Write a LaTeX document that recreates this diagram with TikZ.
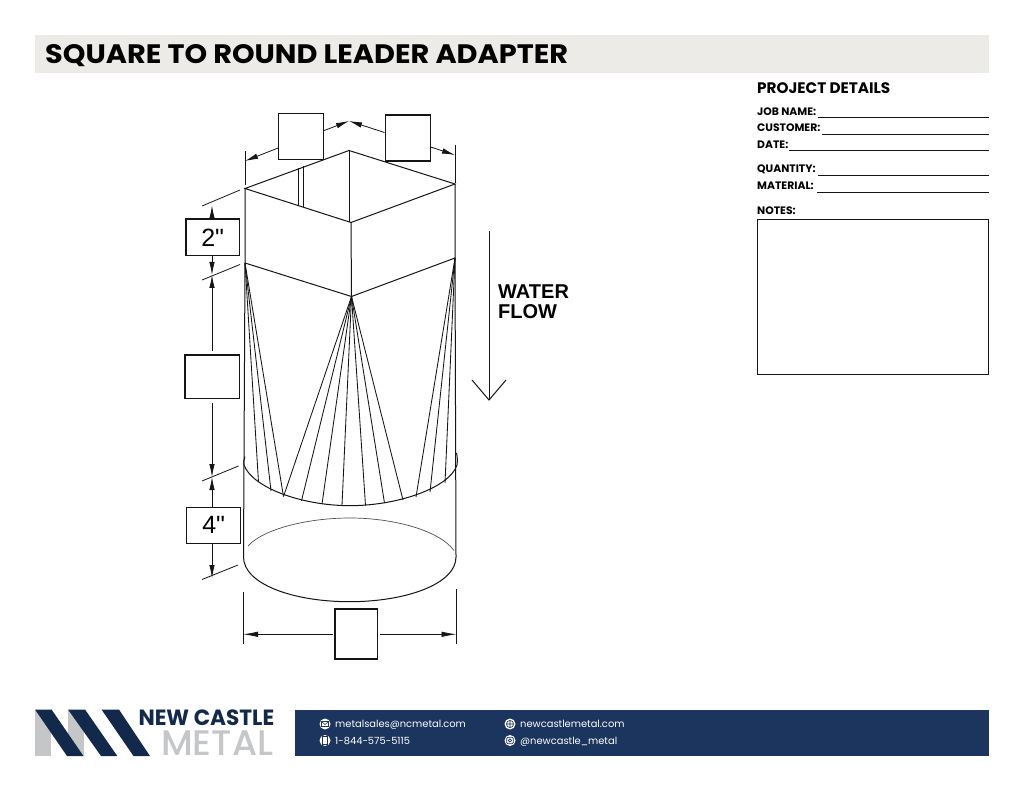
\documentclass[tikz,border=0pt]{standalone}
\usepackage{fontspec}
\usepackage{graphicx}
\setmainfont{Liberation Sans}
\newfontfamily\headfont{Poppins}[UprightFont=*-Bold]
\newfontfamily\bodyfont{Poppins}
\newfontfamily\logofont{Poppins}[UprightFont=*-Medium]
\newfontfamily\dimfont{Liberation Sans}
\definecolor{navy}{HTML}{1C355E}
\definecolor{logonavy}{HTML}{13294B}
\definecolor{logogray}{HTML}{C4C6C8}
\definecolor{barbg}{HTML}{ECEBE7}
\definecolor{ink}{HTML}{151515}
\usetikzlibrary{arrows.meta}
\tikzset{
  part/.style={draw=ink,line width=1pt},
  fan/.style={draw=ink,line width=0.85pt},
  ext/.style={draw=ink,line width=0.8pt},
  dimline/.style={draw=ink,line width=0.8pt,-{Latex[length=13pt,width=5.5pt]}},
  dimbox/.style={draw=ink,line width=1.2pt,fill=white,inner sep=0pt,minimum width=#1,font=\dimfont\fontsize{25}{25}\selectfont},
  field/.style={anchor=base west,inner sep=0pt,font=\headfont\fontsize{10.8}{11}\selectfont},
  rule/.style={draw=ink,line width=1pt},
  foot/.style={anchor=base west,inner sep=0pt,text=white,font=\bodyfont\fontsize{9.9}{11}\selectfont},
  ico/.style={circle,fill=white,minimum size=11pt,inner sep=0pt},
}
\begin{document}
\begin{tikzpicture}[x=1pt,y=-1pt]
\useasboundingbox (0,0) rectangle (1024,791);
\fill[white] (0,0) rectangle (1024,791);
% header
\fill[barbg] (35,35) rectangle (989,73);
\node[anchor=base west,inner sep=0pt] (title) at (45,63.5) {\resizebox{523pt}{19pt}{\headfont SQUARE TO ROUND LEADER ADAPTER}};
% project details
\node[anchor=base west,inner sep=0pt] (pd) at (757,94) {\resizebox{133pt}{!}{\headfont PROJECT DETAILS}};
\node[field] (f1) at (757,115.2) {JOB NAME:};
\node[field] (f2) at (757,131.8) {CUSTOMER:};
\node[field] (f3) at (757,148.6) {DATE:};
\node[field] (f4) at (757,172.8) {QUANTITY:};
\node[field] (f5) at (757,189.8) {MATERIAL:};
\node[field] (f6) at (757,214.8) {NOTES:};
\coordinate (e1) at (989,117.5);\coordinate (e2) at (989,134.3);\coordinate (e3) at (989,151);\coordinate (e4) at (989,175.3);\coordinate (e5) at (989,192.3);
\draw[rule] (818,117.5) -- (e1);
\draw[rule] (822,134.3) -- (e2);
\draw[rule] (789,151) -- (e3);
\draw[rule] (818,175.3) -- (e4);
\draw[rule] (817,192.3) -- (e5);
\draw[draw=ink,line width=0.9pt] (757,219) rectangle (988.5,374);
% adapter body
\coordinate (tl) at (245,188.5);\coordinate (tb) at (349,150.5);\coordinate (tr) at (455,184);\coordinate (tf) at (351,222.5);
\coordinate (ml) at (245,263);\coordinate (mf) at (351.5,296.5);\coordinate (mr) at (455,258);
\draw[part] (tl) -- (tb) -- (tr) -- (tf) -- cycle;
\draw[part] (tb) -- (349,222);
\draw[part] (298.5,168.5) -- (298.5,206);
\draw[part] (303.5,166.5) -- (303.5,207.5);
\draw[part] (tl) -- (ml) -- (mf) -- (mr) -- (tr);
\draw[part] (tf) -- (mf);
\draw[part] (ml) -- (243.5,557);
\draw[part] (mr) -- (456,557);
% rim
\draw[part] (245,456.5) .. controls (243.8,459) and (243.5,462) .. (244,465)
  .. controls (252,487) and (300,505.5) .. (350,505.7)
  .. controls (400,505.5) and (450,487) .. (457,465)
  .. controls (457.5,461) and (457.5,457) .. (456.5,453);
% fans
\foreach \p in {(258.5,482),(271,491),(283.5,496.5)} \draw[fan] (ml) -- \p;
\foreach \p in {(283.5,496.5),(301.5,500.8),(322,504),(342,505.5),(365.5,505.5),(384.5,503),(403,500)} \draw[fan] (mf) -- \p;
\foreach \p in {(416,497),(430,492),(445,483)} \draw[fan] (mr) -- \p;
% bottom ellipse
\draw[part] (243.5,557) .. controls (243.5,584) and (293,601.7) .. (349.5,601.7)
  .. controls (406,601.7) and (456,584) .. (456,557);
\draw[draw=ink!75,line width=0.7pt] (248,546) .. controls (262,530) and (305,518) .. (350,518)
  .. controls (395,518) and (440,531) .. (454,550.5);
% dimensions top
\draw[ext] (245,151) -- (245,185);
\draw[ext] (455,145) -- (455,183);
\coordinate (peak) at (349,121);
\coordinate (a1) at (245,161);\coordinate (a2) at (455,155);
\node[dimbox=45pt,minimum height=46pt] (bx1) at (301.2,136.3) {};
\node[dimbox=45pt,minimum height=46pt] (bx2) at (407.6,138) {};
\draw[dimline] (bx1.west |- 0,148) -- (a1);
\draw[dimline] (bx1.east |- 0,130.5) -- (peak);
\draw[dimline] (bx2.west |- 0,132.5) -- (peak);
\draw[dimline] (bx2.east |- 0,147) -- (a2);
% dimensions left
\draw[ext] (202,206) -- (240,190);
\draw[ext] (202,280) -- (240,264.5);
\draw[ext] (202,481) -- (238.5,466);
\draw[ext] (202,579.5) -- (238,565);
\node[dimbox=53.5pt,minimum height=36.7pt] (d2) at (212.7,237.3) {2"};
\node[dimbox=54.5pt,minimum height=43.3pt] (dm) at (212.2,376.6) {};
\node[dimbox=54pt,minimum height=36pt] (d4) at (213.7,525.3) {4"};
\coordinate (p1) at (212,205.5);\coordinate (p2) at (212,275);\coordinate (p3) at (212,477);\coordinate (p4) at (212,578);
\draw[dimline] (212,219) -- (p1);
\draw[dimline] (212,255.7) -- (p2);
\draw[dimline] (212,350.7) -- (p2);
\draw[dimline] (212,403.3) -- (p3);
\draw[dimline] (212,507.3) -- (p3);
\draw[dimline] (212,543.3) -- (p4);
% dimension bottom
\draw[ext] (243,591.7) -- (243,644);
\draw[ext] (456.5,589) -- (456.5,644);
\node[dimbox=42.3pt,minimum height=50pt] (db) at (356.2,634) {};
\coordinate (b1) at (243,634.3);\coordinate (b2) at (456.5,634.3);
\draw[draw=ink,line width=0.8pt,-{Latex[length=15pt,width=5.5pt]}] (332.5,634.3) -- (b1);
\draw[draw=ink,line width=0.8pt,-{Latex[length=15pt,width=5.5pt]}] (380,634.3) -- (b2);
% water flow
\node[anchor=base west,inner sep=0pt,font=\dimfont\bfseries\fontsize{20}{20}\selectfont] (wf) at (498,298.5) {WATER};
\node[anchor=base west,inner sep=0pt,font=\dimfont\bfseries\fontsize{20}{20}\selectfont] (wf2) at (498,318.5) {FLOW};
\coordinate (w0) at (489,231);\coordinate (w1) at (489,400);
\draw[part] (w0) -- (w1);
\draw[part] (472,380) -- (w1) -- (506,380);
% footer
\fill[navy] (295,710) rectangle (989,756);
\node[foot] (t1) at (335,727.5) {metalsales@ncmetal.com};
\node[foot] (t2) at (335,744) {1-844-575-5115};
\node[foot] (t3) at (520,727.5) {newcastlemetal.com};
\node[foot] (t4) at (520,744) {@newcastle\_metal};
\node[ico] (i1) at (325,724) {};
\node[ico] (i2) at (325,740.5) {};
\node[ico] (i3) at (510,724) {};
\node[ico] (i4) at (510,740.5) {};
\draw[navy,line width=0.7pt] (321.5,721.7) rectangle (328.5,726.3);
\draw[navy,line width=0.6pt] (321.5,721.7) -- (325,724.5) -- (328.5,721.7);
\draw[navy,line width=0.9pt] (322.8,736.8) rectangle (327.2,744.2);
\draw[navy,line width=0.6pt] (510,724) circle (3.6pt) (506.4,724) -- (513.6,724) (510,720.4) -- (510,727.6);
\draw[navy,line width=0.7pt,rounded corners=1pt] (506.8,737.3) rectangle (513.2,743.7);
\draw[navy,line width=0.6pt] (510,740.5) circle (1.6pt);
% logo
\fill[logogray] (35,709.5) rectangle (50.5,756);
\fill[logogray] (68,709.5) rectangle (83.5,756);
\fill[logonavy] (35,709.5) -- (51.5,709.5) -- (83.5,756) -- (67,756) -- cycle;
\fill[logonavy] (68,709.5) -- (85,709.5) -- (117.3,756) -- (101,756) -- cycle;
\fill[logonavy] (101.5,709.5) -- (119,709.5) -- (150,756) -- (133.5,756) -- cycle;
\node[anchor=base west,inner sep=0pt,text=logonavy] (lg1) at (138.3,725.7) {\resizebox{135.7pt}{15.7pt}{\headfont NEW CASTLE}};
\node[anchor=base west,inner sep=0pt,text=logogray] (lg2) at (161,755.7) {\resizebox{112pt}{24.7pt}{\logofont METAL}};
\end{tikzpicture}
\end{document}
